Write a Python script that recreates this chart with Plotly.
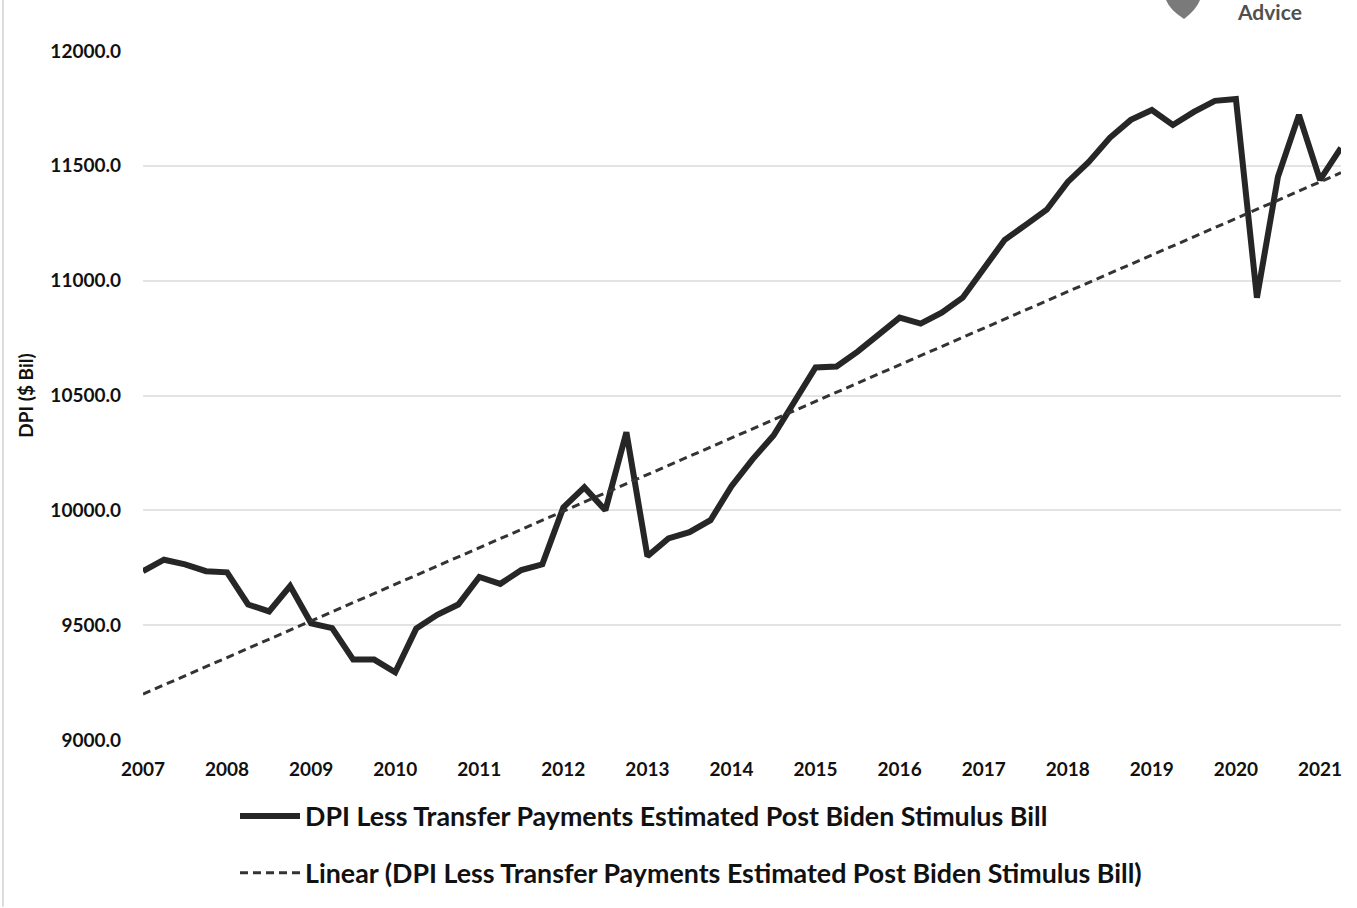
import plotly.graph_objects as go

years = list(range(2007, 2022))
quarters = [f"{y}Q{q}" for y in years for q in range(1, 5)][:58]
dpi_values = [
    9735, 9785, 9765, 9735, 9730, 9590, 9560, 9670,
    9508, 9487, 9350, 9350, 9295, 9485, 9545, 9590,
    9710, 9680, 9740, 9765, 10013, 10100, 10000, 10340,
    9800, 9878, 9905, 9957, 10105, 10222, 10326, 10474,
    10622, 10626, 10691, 10765, 10839, 10813, 10861, 10926,
    11048, 11178, 11243, 11309, 11430, 11517, 11622, 11700,
    11743, 11678, 11735, 11783, 11791, 10926, 11452, 11722,
    11439, 11578,
]
# Linear trendline as drawn in the reference (start and end points)
trend_x = [quarters[0], quarters[-1]]
trend_values = [9200, 11470]
tick_labels = [str(y) for y in years]
series_name = "DPI Less Transfer Payments Estimated Post Biden Stimulus Bill"
trend_name = "Linear (DPI Less Transfer Payments Estimated Post Biden Stimulus Bill)"

font_family = "Lato, 'Open Sans', sans-serif"

fig = go.Figure()
fig.add_trace(go.Scatter(
    x=quarters, y=dpi_values, mode="lines", name=series_name,
    line=dict(color="#262626", width=6), legendgroup="a",
))
fig.add_trace(go.Scatter(
    x=trend_x, y=trend_values, mode="lines", name=trend_name,
    line=dict(color="#333333", width=3, dash="8px,5px"), legendgroup="b",
))

fig.update_layout(
    width=1357, height=908,
    margin=dict(l=143, r=16, t=51, b=167),
    paper_bgcolor="white", plot_bgcolor="white",
    font=dict(family=font_family, color="#111111"),
    showlegend=True,
    legend=dict(
        x=(235 - 143) / 1198, xanchor="left",
        y=-(792 - 741) / 690, yanchor="top",
        font=dict(size=26.8, family=font_family, color="#111111", weight="bold"),
        tracegroupgap=19, itemwidth=60,
        bgcolor="rgba(0,0,0,0)",
    ),
    xaxis=dict(
        type="category",
        range=[0, len(quarters) - 1],
        tickmode="array",
        tickvals=[f"{y}Q1" for y in years],
        ticktext=tick_labels,
        showgrid=False, zeroline=False, showline=False,
        ticks="", ticklabelstandoff=16,
        tickfont=dict(size=19, weight="bold", color="#111111"),
    ),
    yaxis=dict(
        range=[9000, 12000],
        tickmode="array",
        tickvals=[9000, 9500, 10000, 10500, 11000, 11500, 12000],
        tickformat=".1f",
        showgrid=True, gridcolor="#e3e3e3", gridwidth=1.5,
        zeroline=False, showline=False, ticks="",
        ticklabelstandoff=21,
        tickfont=dict(size=19, weight="bold", color="#111111"),
        title=dict(text="DPI ($ Bil)", standoff=11,
                   font=dict(size=19, weight="bold", color="#111111")),
    ),
)

# left image border
fig.add_shape(type="line", xref="paper", yref="paper",
              x0=(3 - 143) / 1198, x1=(3 - 143) / 1198,
              y0=-167 / 690, y1=(690 + 51) / 690,
              line=dict(color="#dddddd", width=2))

# partial logo at the top right
fig.add_annotation(xref="paper", yref="paper",
                   x=(1269 - 143) / 1198, y=(741 - 11) / 690,
                   yanchor="middle", xanchor="center",
                   text="<b>Advice</b>", showarrow=False,
                   font=dict(size=21, color="#505050", family=font_family))
fig.add_shape(type="path", xref="paper", yref="paper",
              path=("M {x0},{y0} L {x1},{y0} Q {x2},{y1} {x3},{y2} Q {x4},{y1} {x0},{y0} Z").format(
                  x0=(1166 - 143) / 1198, x1=(1200 - 143) / 1198,
                  x2=(1196 - 143) / 1198, x3=(1184 - 143) / 1198,
                  x4=(1170 - 143) / 1198,
                  y0=(741 + 0) / 690, y1=(741 - 10) / 690, y2=(741 - 19) / 690),
              fillcolor="#7a7a7a", line=dict(width=0))

fig.write_html("out.html")
